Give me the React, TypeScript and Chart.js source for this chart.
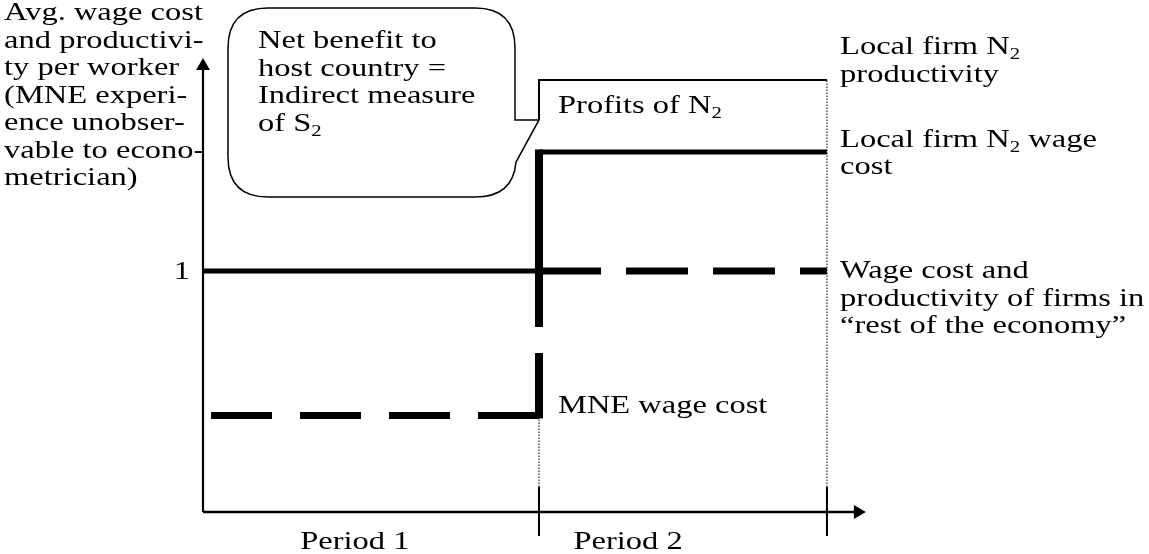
import React, { useEffect, useRef } from "react";
import { Chart, registerables } from "chart.js";

Chart.register(...registerables);

// ---------- data (value units: x = time, 1 = end of period 1; y = wage/productivity, 1 = rest of economy) ----------
const periodEdges = [0, 1, 1.857];
const periodLabels = ["Period 1", "Period 2"];
const restOfEconomyLevel = [1, 1]; // period 1, period 2
const localN2WageCost = 1.494; // period 2
const localN2Productivity = 1.793; // period 2
const mneWageCost = 0.4; // period 1
const mneStartX = 0.024;
const mneJumpGap = [0.768, 0.66];
const calloutTipLevel = 1.627;
const yTickValues = [1];
const yTickLabels = ["1"];
const axisTopValue = 1.851;
const axisRightValue = 1.949;
const periodTickSpan = [0.104, -0.1];

// ---------- text ----------
const yAxisTitleLines = [
  "Avg. wage cost",
  "and productivi-",
  "ty per worker",
  "(MNE experi-",
  "ence unobser-",
  "vable to econo-",
  "metrician)",
];
const calloutLines = ["Net benefit to", "host country =", "Indirect measure", "of S_2"];
const profitsLabel = ["Profits of N_2"];
const productivityLabel = ["Local firm N_2", "productivity"];
const wageLabel = ["Local firm N_2 wage", "cost"];
const restLabel = ["Wage cost and", "productivity of firms in", "\u201Crest of the economy\u201D"];
const mneLabel = ["MNE wage cost"];

const FONT_PX = 25;
const H_STRETCH = 1.3;
const LINE_H = 27.5;
const FONT_FAMILY = '"Liberation Serif", "Times New Roman", serif';

type Label = { lines: string[]; x: number; y: number; align: "left" | "right" | "center" };

const labelLayout: Label[] = [
  { lines: yAxisTitleLines, x: -0.592, y: 2.041, align: "left" },
  { lines: yTickLabels, x: -0.0387, y: yTickValues[0] - 0.033, align: "right" },
  { lines: calloutLines, x: 0.1637, y: 1.925, align: "left" },
  { lines: profitsLabel, x: 1.0565, y: 1.655, align: "left" },
  { lines: productivityLabel, x: 1.896, y: 1.9, align: "left" },
  { lines: wageLabel, x: 1.896, y: 1.515, align: "left" },
  { lines: restLabel, x: 1.896, y: 0.97, align: "left" },
  { lines: mneLabel, x: 1.0565, y: 0.411, align: "left" },
  { lines: [periodLabels[0]], x: 0.452, y: -0.154, align: "center" },
  { lines: [periodLabels[1]], x: 1.265, y: -0.154, align: "center" },
];

// callout bubble (value units)
const callout = { left: 0.0744, right: 0.9286, top: 2.091, bottom: 1.307, tailLow: 1.452, radiusPx: 40 };

function parseRich(text: string) {
  return text
    .split(/(_\d)/)
    .filter((p) => p.length > 0)
    .map((p) => (p.startsWith("_") ? { t: p.slice(1), sub: true } : { t: p, sub: false }));
}

function drawRich(ctx: CanvasRenderingContext2D, text: string, x: number, y: number, align: string) {
  const parts = parseRich(text);
  const mainFont = `${FONT_PX}px ${FONT_FAMILY}`;
  const subFont = `${Math.round(FONT_PX * 0.65)}px ${FONT_FAMILY}`;
  let w = 0;
  const widths = parts.map((p) => {
    ctx.font = p.sub ? subFont : mainFont;
    const m = ctx.measureText(p.t).width;
    w += m;
    return m;
  });
  const total = w * H_STRETCH;
  let sx = x;
  if (align === "right") sx = x - total;
  if (align === "center") sx = x - total / 2;
  ctx.save();
  ctx.translate(sx, y);
  ctx.scale(H_STRETCH, 1);
  ctx.textBaseline = "alphabetic";
  ctx.textAlign = "left";
  ctx.fillStyle = "#000";
  let cx = 0;
  parts.forEach((p, i) => {
    ctx.font = p.sub ? subFont : mainFont;
    ctx.fillText(p.t, cx, p.sub ? FONT_PX * 0.2 : 0);
    cx += widths[i];
  });
  ctx.restore();
}

const annotationPlugin = {
  id: "diagramAnnotations",
  afterDatasetsDraw(chart: any) {
    const ctx: CanvasRenderingContext2D = chart.ctx;
    const xs = chart.scales.x;
    const ys = chart.scales.y;
    const px = (v: number) => xs.getPixelForValue(v);
    const py = (v: number) => ys.getPixelForValue(v);

    // callout bubble
    const L = px(callout.left);
    const R = px(callout.right);
    const T = py(callout.top);
    const B = py(callout.bottom);
    const r = callout.radiusPx;
    const tipX = px(periodEdges[1]);
    const tipY = py(calloutTipLevel);
    const lowY = py(callout.tailLow);
    ctx.save();
    ctx.beginPath();
    ctx.moveTo(L + r, T);
    ctx.lineTo(R - r, T);
    ctx.quadraticCurveTo(R, T, R, T + r);
    ctx.lineTo(R, tipY);
    ctx.lineTo(tipX, tipY);
    ctx.lineTo(R + 1, lowY);
    ctx.quadraticCurveTo(R - 2, B, R - r, B);
    ctx.lineTo(L + r, B);
    ctx.quadraticCurveTo(L, B, L, B - r);
    ctx.lineTo(L, T + r);
    ctx.quadraticCurveTo(L, T, L + r, T);
    ctx.closePath();
    ctx.lineWidth = 1.5;
    ctx.strokeStyle = "#000";
    ctx.stroke();
    ctx.restore();

    // labels
    labelLayout.forEach((lab) => {
      const x = px(lab.x);
      const y0 = py(lab.y);
      lab.lines.forEach((line, i) => drawRich(ctx, line, x, y0 + i * LINE_H, lab.align));
    });
  },
};

function seg(x1: number, y1: number, x2: number, y2: number, width: number, extra: any = {}) {
  return {
    data: [
      { x: x1, y: y1 },
      { x: x2, y: y2 },
    ],
    showLine: true,
    borderColor: "#000",
    backgroundColor: "#000",
    borderWidth: width,
    pointRadius: 0,
    pointHoverRadius: 0,
    clip: false,
    ...extra,
  };
}

export default function App() {
  const canvasRef = useRef<HTMLCanvasElement | null>(null);

  useEffect(() => {
    const canvas = canvasRef.current;
    if (!canvas) return;
    const [p0, p1, p2] = periodEdges;
    const vertTop = localN2WageCost + 2.5 / 241;
    const datasets: any[] = [
      // axes
      seg(0, 0, 0, axisTopValue, 2.2),
      seg(0, 0, axisRightValue, 0, 2.5),
      {
        data: [
          { x: 0, y: axisTopValue },
          { x: axisRightValue, y: 0 },
        ],
        showLine: false,
        pointStyle: "triangle",
        pointRotation: [0, 90],
        pointRadius: 8,
        pointBorderWidth: 0,
        pointBackgroundColor: "#000",
        pointBorderColor: "#000",
        clip: false,
      },
      // period ticks
      seg(p1, periodTickSpan[0], p1, periodTickSpan[1], 2),
      seg(p2, periodTickSpan[0], p2, periodTickSpan[1], 2),
      // rest of economy
      seg(p0, restOfEconomyLevel[0], p1, restOfEconomyLevel[0], 5),
      seg(p1, restOfEconomyLevel[1], p2, restOfEconomyLevel[1], 7, { borderDash: [62, 25] }),
      // local firm N2
      seg(p1, localN2WageCost, p2, localN2WageCost, 5),
      {
        ...seg(p1, calloutTipLevel, p1, localN2Productivity, 2),
        data: [
          { x: p1, y: calloutTipLevel },
          { x: p1, y: localN2Productivity },
          { x: p2, y: localN2Productivity },
        ],
      },
      // MNE jump (broken vertical)
      seg(p1, vertTop, p1, mneJumpGap[0], 8),
      seg(p1, mneJumpGap[1], p1, mneWageCost - 3 / 241, 8),
      // MNE wage cost
      seg(p1, mneWageCost, mneStartX, mneWageCost, 7, { borderDash: [61, 28] }),
      // dotted guides
      seg(p1, periodTickSpan[0], p1, mneWageCost, 1.2, { borderDash: [1.5, 1.5], borderColor: "#222" }),
      seg(p2, periodTickSpan[0], p2, localN2Productivity, 1.2, { borderDash: [1.5, 1.5], borderColor: "#222" }),
    ];

    const chart = new Chart(canvas, {
      type: "scatter",
      data: { datasets },
      options: {
        animation: false,
        responsive: false,
        events: [],
        layout: { padding: { left: 203, right: 274, top: 50, bottom: 42 } },
        scales: {
          x: { type: "linear", min: 0, max: 2.0, display: false },
          y: { type: "linear", min: 0, max: 1.917, display: false },
        },
        plugins: { legend: { display: false }, tooltip: { enabled: false }, title: { display: false } },
      },
      plugins: [annotationPlugin],
    });
    return () => chart.destroy();
  }, []);

  return (
    <div style={{ position: "absolute", left: 0, top: 0, width: 1149, height: 554, background: "#fff" }}>
      <canvas ref={canvasRef} width={1149} height={554} style={{ display: "block" }} />
    </div>
  );
}
